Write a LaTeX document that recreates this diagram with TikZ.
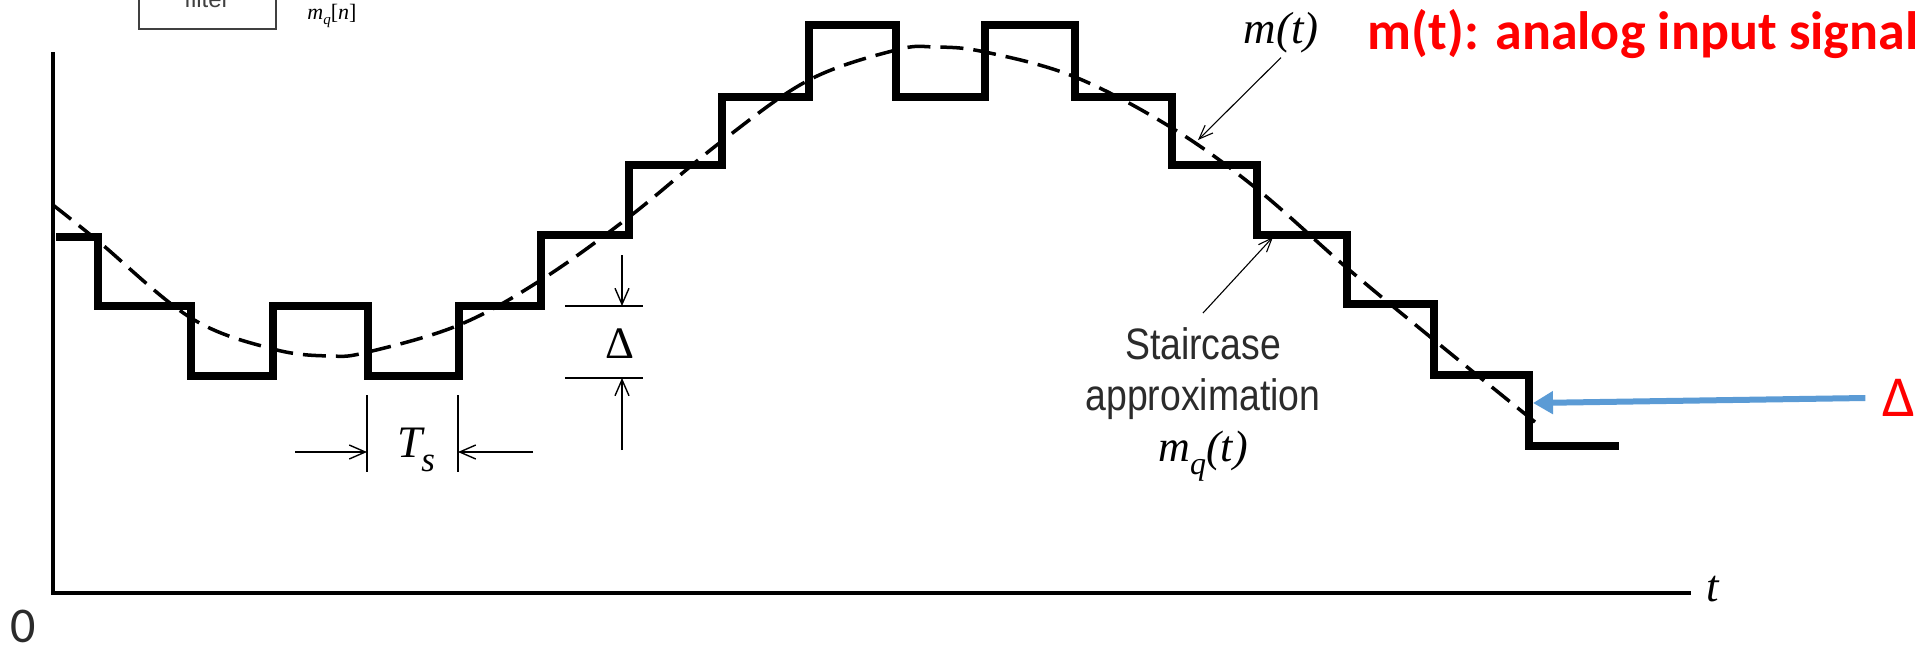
\documentclass[tikz,border=0pt]{standalone}
\usepackage{fontspec}
\usetikzlibrary{arrows.meta}
\newfontfamily\tms{Liberation Serif}
\newfontfamily\calibri{Carlito}
\newfontfamily\condsans[FakeStretch=0.85]{Liberation Sans}
\newfontfamily\arialf{Liberation Sans}
\definecolor{redtxt}{HTML}{FF0000}
\definecolor{bluearrow}{HTML}{5B9BD5}
\definecolor{darktxt}{HTML}{2B2B2B}
\begin{document}
\begin{tikzpicture}[x=1pt,y=-1pt,
  stairline/.style={line width=7.5pt, line join=miter, line cap=rect},
  dashcurve/.style={line width=3.5pt, dash pattern=on 23pt off 10pt},
  axisline/.style={line width=3.5pt},
  dimline/.style={line width=1.6pt},
  dimarrow/.style={line width=1.6pt, -{Straight Barb[length=16pt,width=14pt,line width=1.4pt]}},
  pointer/.style={line width=1.1pt, -{Straight Barb[length=14pt,width=11pt,line width=1.1pt]}},
  serifit/.style={font=\tms\itshape\fontsize{45}{50}\selectfont, inner sep=0pt},
  serifup/.style={font=\tms\fontsize{45}{50}\selectfont, inner sep=0pt},
  redlabel/.style={text=redtxt, inner sep=0pt},
  bluearr/.style={draw=bluearrow, line width=6pt, -{Triangle[length=20pt,width=22pt]}},
]
\useasboundingbox (0,0) rectangle (1928,651);

% partial block at top-left
\draw[line width=2pt, draw=black!75] (139,-20) rectangle (276,29);
\node[anchor=base, inner sep=0pt, font=\arialf\fontsize{24}{26}\selectfont, text=black!75] (filt) at (207,7) {filter};
\node[inner sep=0pt, font=\tms\itshape\fontsize{22}{24}\selectfont] (mqn) at (332,16) {m\raisebox{-0.25em}{\fontsize{15}{15}\selectfont q}{\upshape[}n{\upshape]}};

% axes
\draw[axisline] (53,52) -- (53,593) -- (1691,593);
\node[serifit, anchor=base west] (tlbl) at (1706,601) {t};
\node[inner sep=0pt, font=\calibri\fontsize{50}{52}\selectfont, text=darktxt] (zero) at (23,626) {0};

% analog signal (dashed)
\draw[dashcurve] plot[smooth, tension=0.6] coordinates {
  (53,205) (98,241) (191,318) (273,349) (330,356) (368,352) (459,325)
  (541,280) (629,217) (722,141) (809,80) (896,50) (935,47) (985,52)
  (1075,77) (1172,128) (1257,189) (1347,268) (1434,340) (1535,422)};

% staircase approximation
\draw[stairline] (60,237) -| (98,306) -| (191,376) -| (273,306) -| (368,376)
  -| (459,306) -| (541,235) -| (629,165) -| (722,97) -| (809,25)
  -| (896,97) -| (985,25) -| (1075,97) -| (1172,165) -| (1257,235)
  -| (1347,304) -| (1434,375) -| (1529,446) -- (1615,446);

% Ts dimension
\coordinate (tsAtop) at (367,395); \coordinate (tsAbot) at (367,472);
\coordinate (tsBtop) at (458,395); \coordinate (tsBbot) at (458,472);
\draw[dimline] (tsAtop) -- (tsAbot);
\draw[dimline] (tsBtop) -- (tsBbot);
\coordinate (tsLtail) at (295,452); \coordinate (tsLtip) at (367,452);
\coordinate (tsRtail) at (533,452); \coordinate (tsRtip) at (458,452);
\draw[dimarrow] (tsLtail) -- (tsLtip);
\draw[dimarrow] (tsRtail) -- (tsRtip);
\node[serifit, anchor=base west] (ts) at (397,457) {T\kern-0.02em\raisebox{-0.32em}{\fontsize{35}{35}\selectfont s}};

% Delta dimension
\coordinate (dUl) at (565,306); \coordinate (dUr) at (643,306);
\coordinate (dLl) at (565,378); \coordinate (dLr) at (643,378);
\draw[dimline] (dUl) -- (dUr);
\draw[dimline] (dLl) -- (dLr);
\coordinate (dUtail) at (622,255); \coordinate (dUtip) at (622,306);
\coordinate (dLtail) at (622,450); \coordinate (dLtip) at (622,378);
\draw[dimarrow] (dUtail) -- (dUtip);
\draw[dimarrow] (dLtail) -- (dLtip);
\node[serifup] (delta) at (620,344) {Δ};

% m(t) label and pointer
\node[serifit, inner sep=4pt] (mt) at (1281,33) {m(t)};
\coordinate (mttip) at (1198,140);
\draw[pointer] (mt.south) -- (mttip);

% staircase label and pointer
\node[anchor=north, align=center, inner xsep=0pt, inner ysep=14pt,
      font=\condsans\fontsize{44}{51}\selectfont, text=darktxt] (stairlbl) at (1203,313)
  {Staircase\\approximation\\{\tms\itshape\color{black} m\raisebox{-0.3em}{\fontsize{32}{32}\selectfont q}(t)}};
\coordinate (sttip) at (1273,237);
\draw[pointer] (stairlbl.north) -- (sttip);

% red annotations
\node[redlabel, font=\calibri\bfseries\fontsize{54}{58}\selectfont] (redtitle) at (1643,34) {m(t): analog input signal};
\node[redlabel, inner xsep=17pt, font=\calibri\fontsize{58}{60}\selectfont] (reddelta) at (1899,398) {Δ};
\coordinate (bluetip) at (1533,403);
\draw[bluearr] (reddelta.west) -- (bluetip);
\end{tikzpicture}
\end{document}
